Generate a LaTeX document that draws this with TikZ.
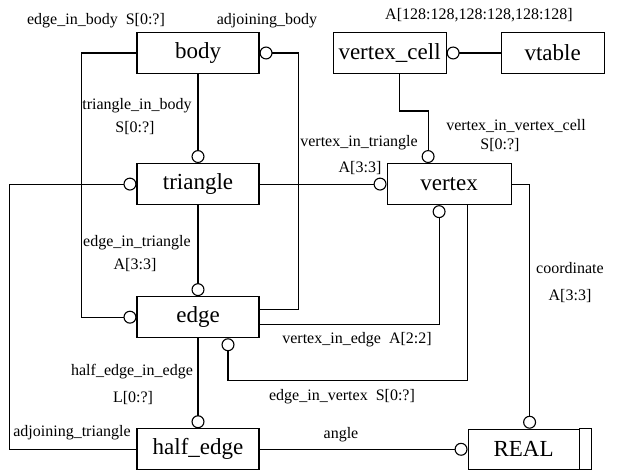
\documentclass[tikz,border=0pt]{standalone}
\usepackage{fontspec}
\setmainfont{Liberation Serif}
\usetikzlibrary{arrows.meta,positioning}

\begin{document}
\begin{tikzpicture}[x=1pt,y=1pt,>=Latex]
  \tikzstyle{entity}=[draw,line width=1.1pt,minimum width=122pt,minimum height=41pt,inner sep=2pt,font=\fontsize{23}{26}\selectfont]
  \tikzstyle{lbl}=[inner sep=0pt,font=\fontsize{16}{18}\selectfont]
  \tikzstyle{link}=[line width=1.1pt,-{Circle[open,length=13pt,width=13pt]}]
  \useasboundingbox (0,0) rectangle (622,470);
  % entities
  \node[entity] (body) at (198,417) {body};
  \node[entity,below=89pt of body] (triangle) {triangle};
  \node[entity,below=91pt of triangle] (edge) {edge};
  \node[entity,below=90pt of edge] (half_edge) {half\_edge};
  \node[entity,minimum width=124pt,right=127pt of triangle] (vertex) {vertex};
  \node[entity,minimum width=113pt,right=73pt of body] (vertex_cell) {vertex\_cell};
  \node[entity,minimum width=103pt,right=54pt of vertex_cell] (vtable) {vtable};
  \node[entity,minimum width=111pt,minimum height=40pt,right=208pt of half_edge] (real) {REAL};
  \draw[line width=1.1pt] (real.north east) rectangle ([xshift=12pt]real.south east);
  % relations
  \draw[link] (body.west) -- ++(-55,0) |- (edge.west);
  \draw[link] ([yshift=8pt]edge.east) -- ++(39,0) |- (body.east);
  \draw[link] (body.south) -- (triangle.north);
  \draw[link] (half_edge.west) -- ++(-127,0) |- (triangle.west);
  \draw[link] (triangle.east) -- (vertex.west);
  \draw[link] (triangle.south) -- (edge.north);
  \draw[link] ([yshift=-7pt]edge.east) -| ([xshift=-10pt]vertex.south);
  \draw[link] ([xshift=18pt]vertex.south) -- ++(0,-175) -| ([xshift=30pt]edge.south);
  \draw[link] (vertex.east) -| ([xshift=6pt]real.north);
  \draw[link] (edge.south) -- (half_edge.north);
  \draw[link] (half_edge.east) -- (real.west);
  \draw[link] (vtable.west) -- (vertex_cell.east);
  \draw[link] ([xshift=10pt]vertex_cell.south) -- ++(0,-37) -| ([xshift=-21pt]vertex.north);
  % labels
  \node[lbl] (l_eib) at (96,449) {edge\_in\_body\enspace S[0:?]};
  \node[lbl] (l_ab) at (267,449) {adjoining\_body};
  \node[lbl] (l_vt) at (479,455) {A[128:128,128:128,128:128]};
  \node[lbl] (l_tib) at (137,364) {triangle\_in\_body};
  \node[lbl] (l_tibm) at (135,342) {S[0:?]};
  \node[lbl] (l_vit) at (359,327) {vertex\_in\_triangle};
  \node[lbl] (l_vitm) at (360,302) {A[3:3]};
  \node[lbl] (l_vivc) at (516,344) {vertex\_in\_vertex\_cell};
  \node[lbl] (l_vivcm) at (500,325) {S[0:?]};
  \node[lbl] (l_eit) at (137,227) {edge\_in\_triangle};
  \node[lbl] (l_eitm) at (135,205) {A[3:3]};
  \node[lbl] (l_co) at (570,202) {coordinate};
  \node[lbl] (l_com) at (570,174) {A[3:3]};
  \node[lbl] (l_vie) at (357,130) {vertex\_in\_edge\enspace A[2:2]};
  \node[lbl] (l_eiv) at (342,73) {edge\_in\_vertex\enspace S[0:?]};
  \node[lbl] (l_hie) at (132,98) {half\_edge\_in\_edge};
  \node[lbl] (l_hiem) at (133,72) {L[0:?]};
  \node[lbl] (l_at) at (72,37) {adjoining\_triangle};
  \node[lbl] (l_an) at (341,35) {angle};
\end{tikzpicture}
\end{document}
